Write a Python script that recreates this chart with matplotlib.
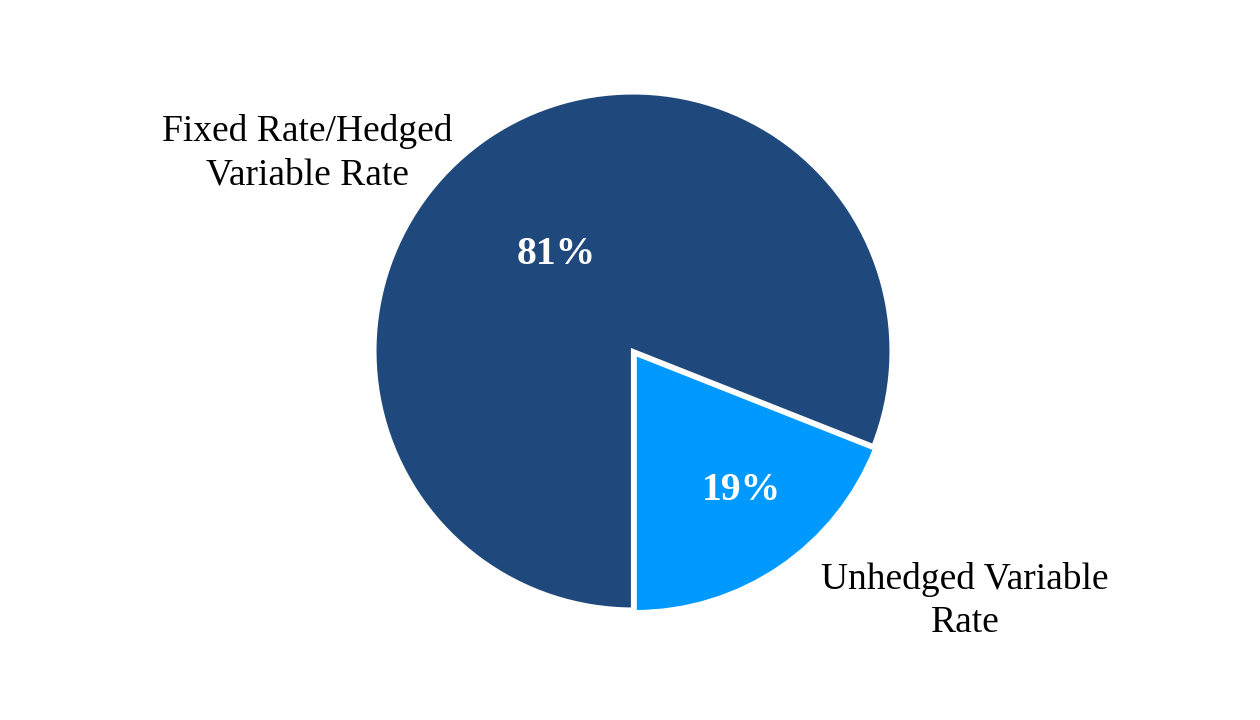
import matplotlib.pyplot as plt

plt.rcParams['font.family'] = ['Liberation Serif', 'DejaVu Serif']

# data
labels = ['Unhedged Variable\nRate', 'Fixed Rate/Hedged\nVariable Rate']
shares = [19, 81]
colors = ['#0099FF', '#1F497C']

fig = plt.figure(figsize=(12.6, 7.2), dpi=100)
ax = fig.add_axes([(633 - 257) / 1260, (720 - 351 - 257) / 720, 514 / 1260, 514 / 720])

wedges, texts, autotexts = ax.pie(
    shares,
    colors=colors,
    startangle=270,
    counterclock=True,
    explode=[0.012, 0],
    autopct=lambda p: f'{p:.0f}%',
    wedgeprops=dict(edgecolor='white', linewidth=3),
    radius=1.006,
)

# percent labels positions (data coords)
pct_pos = [(0.424, -0.541), (-0.30, 0.377)]
for t, pos in zip(autotexts, pct_pos):
    t.set_position(pos)
    t.set_color('white')
    t.set_fontweight('bold')
    t.set_fontsize(28.5)
    t.set_ha('center')
    t.set_va('center')

# category labels outside the pie
label_pos = [(1.292, -0.974), (-1.268, 0.770)]
for lab, pos in zip(labels, label_pos):
    ax.text(pos[0], pos[1], lab, ha='center', va='center',
            fontsize=27, color='black', linespacing=1.32)

ax.set_xlim(-1, 1)
ax.set_ylim(-1, 1)
ax.set_aspect('equal')
ax.axis('off')

fig.savefig('out.png', dpi=100)
